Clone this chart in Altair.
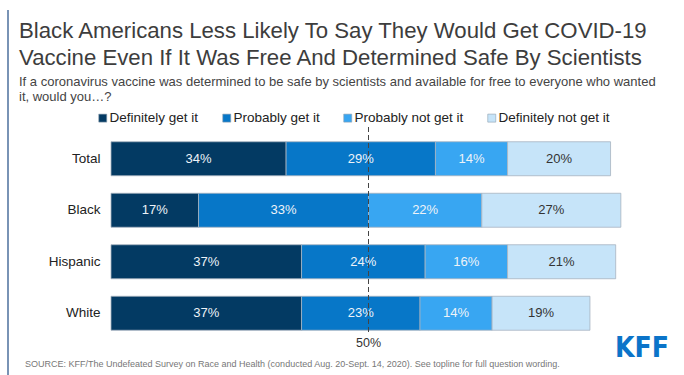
import altair as alt
import pandas as pd

# ---- data ----
groups = ["Total", "Black", "Hispanic", "White"]
series = ["Definitely get it", "Probably get it", "Probably not get it", "Definitely not get it"]
definitely_get = [34, 17, 37, 37]
probably_get = [29, 33, 24, 23]
probably_not = [14, 22, 16, 14]
definitely_not = [20, 27, 21, 19]
colors = ["#033a63", "#0777c8", "#38a6f2", "#c6e4f9"]
label_colors = ["#eef3f8", "#eef3f8", "#eef3f8", "#333333"]

title_lines = [
    "Black Americans Less Likely To Say They Would Get COVID-19",
    "Vaccine Even If It Was Free And Determined Safe By Scientists",
]
subtitle_lines = [
    "If a coronavirus vaccine was determined to be safe by scientists and available for free to everyone who wanted",
    "it, would you\u2026?",
]
source_text = ("SOURCE: KFF/The Undefeated Survey on Race and Health (conducted Aug. 20-Sept. 14, 2020). "
               "See topline for full question wording.")
midline_value = 50
midline_label = "50%"
logo_text = "KFF"

values_by_series = [definitely_get, probably_get, probably_not, definitely_not]
rows = []
for si, (s, vals) in enumerate(zip(series, values_by_series)):
    for g, v in zip(groups, vals):
        rows.append({"group": g, "series": s, "value": v, "order": si,
                     "label": f"{v}%", "tcolor": label_colors[si]})
df = pd.DataFrame(rows)

FONT = "Liberation Sans"
W, H = 515, 206
PL, PT = 111, 133

base = alt.Chart(df).transform_stack(
    stack="value", groupby=["group"], as_=["x0", "x1"],
    sort=[alt.SortField("order", order="ascending")]
).transform_calculate(mid="(datum.x0 + datum.x1) / 2")

yenc = alt.Y("group:N", sort=groups, title=None,
             scale=alt.Scale(paddingInner=0.34, paddingOuter=0.17),
             axis=alt.Axis(domain=False, ticks=False, labelFontSize=13.5, labelFont=FONT,
                           labelColor="#222222", labelPadding=11))

bars = base.mark_bar(stroke="#a7b3bf", strokeWidth=0.8).encode(
    x=alt.X("x0:Q", scale=alt.Scale(domain=[0, 100]), axis=None),
    x2="x1:Q",
    y=yenc,
    color=alt.Color("series:N", scale=alt.Scale(domain=series, range=colors),
                    legend=alt.Legend(orient="none", legendX=-15, legendY=-22,
                                      direction="horizontal", title=None,
                                      symbolType="square", symbolSize=64,
                                      symbolStrokeColor="#8fa0ae", symbolStrokeWidth=0.6,
                                      labelFontSize=13.5, labelFont=FONT, labelColor="#222222",
                                      columnPadding=21, labelOffset=0)),
)

seg_text = base.mark_text(fontSize=13, font=FONT).encode(
    x="mid:Q",
    y=alt.Y("group:N", sort=groups),
    text="label:N",
    color=alt.Color("tcolor:N", scale=None, legend=None),
)

midline = alt.Chart(pd.DataFrame({"v": [midline_value]})).mark_rule(
    color="#444444", strokeWidth=1, strokeDash=[5, 3]
).encode(x="v:Q", y=alt.value(-6), y2=alt.value(201))

mid_lbl = alt.Chart(pd.DataFrame({"v": [midline_value], "t": [midline_label]})).mark_text(
    fontSize=12.5, font=FONT, color="#333333", baseline="alphabetic"
).encode(x="v:Q", y=alt.value(214), text="t:N")

def txt(s, x, y, size, color, align="left", weight="normal", font=FONT):
    return alt.Chart(pd.DataFrame({"t": [s]})).mark_text(
        align=align, baseline="alphabetic", fontSize=size, color=color,
        fontWeight=weight, font=font
    ).encode(x=alt.value(x), y=alt.value(y), text="t:N")

texts = [
    txt(title_lines[0], 19 - PL, 38 - PT, 22.2, "#3d3d3d"),
    txt(title_lines[1], 19 - PL, 65 - PT, 22.2, "#3d3d3d"),
    txt(subtitle_lines[0], 19 - PL, 86 - PT, 13, "#444444"),
    txt(subtitle_lines[1], 19 - PL, 101 - PT, 13, "#444444"),
    txt(source_text, 25 - PL, 367 - PT, 9, "#777777"),
    txt(logo_text, 669 - PL, 357 - PT, 28, "#0b74c9", align="right", weight="bold",
        font="Liberation Sans Narrow, DejaVu Sans Condensed, sans-serif"),
]

left_bar = alt.Chart(pd.DataFrame({"a": [0]})).mark_rule(color="#4d6f9c", strokeWidth=1.5).encode(
    x=alt.value(8 - PL), y=alt.value(10 - PT), y2=alt.value(375 - PT)
)

chart = alt.layer(bars, seg_text, midline, mid_lbl, left_bar, *texts).properties(
    width=W, height=H,
    padding={"left": PL, "top": PT, "right": 684 - PL - W, "bottom": 375 - PT - H},
    autosize=alt.AutoSizeParams(type="none"),
    background="white",
).configure_view(stroke=None)

chart.save("out.html", embed_options={"renderer": "svg", "actions": False})
